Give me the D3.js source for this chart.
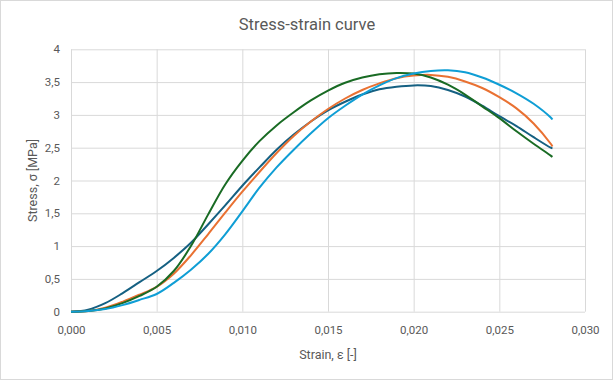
<!DOCTYPE html>
<html>
<head>
<meta charset="utf-8">
<script src="https://cdn.jsdelivr.net/npm/d3@7"></script>
<style>
  body { margin: 0; background: #fff; }
  svg text { font-family: Roboto, "Open Sans", sans-serif; fill: #595959; }
</style>
</head>
<body>
<div id="chart"></div>
<script>
// strain values shared by all series
var strain = [0, 0.001, 0.002, 0.003, 0.004, 0.005, 0.006, 0.007, 0.008, 0.009,
  0.010, 0.011, 0.012, 0.013, 0.014, 0.015, 0.016, 0.017, 0.018, 0.019,
  0.020, 0.021, 0.022, 0.023, 0.024, 0.025, 0.026, 0.027, 0.028, 0.0281];

var darkBlue = [0, 0.03, 0.13, 0.28, 0.45, 0.62, 0.82, 1.05, 1.33, 1.62,
  1.92, 2.2, 2.47, 2.7, 2.9, 3.07, 3.2, 3.31, 3.39, 3.43,
  3.45, 3.44, 3.38, 3.28, 3.14, 2.98, 2.83, 2.66, 2.5, 2.49];

var orange = [0, 0.01, 0.06, 0.15, 0.26, 0.38, 0.58, 0.86, 1.18, 1.51,
  1.83, 2.13, 2.42, 2.68, 2.9, 3.09, 3.25, 3.38, 3.48, 3.56,
  3.6, 3.61, 3.58, 3.51, 3.41, 3.27, 3.1, 2.87, 2.56, 2.52];

var green = [0, 0.01, 0.05, 0.13, 0.24, 0.38, 0.62, 1.0, 1.48, 1.94,
  2.3, 2.6, 2.84, 3.04, 3.22, 3.37, 3.49, 3.57, 3.62, 3.64,
  3.63, 3.57, 3.46, 3.31, 3.13, 2.95, 2.75, 2.56, 2.38, 2.36];

var lightBlue = [0, 0.01, 0.04, 0.1, 0.18, 0.27, 0.44, 0.64, 0.88, 1.18,
  1.53, 1.89, 2.2, 2.47, 2.72, 2.95, 3.14, 3.31, 3.45, 3.56,
  3.63, 3.67, 3.68, 3.65, 3.57, 3.46, 3.33, 3.17, 2.96, 2.93];

var xTicks = [0, 0.005, 0.010, 0.015, 0.020, 0.025, 0.030];
var yTicks = [0, 0.5, 1, 1.5, 2, 2.5, 3, 3.5, 4];

(function () {
  var series = [
    { values: darkBlue, color: '#156082' },
    { values: orange, color: '#E97132' },
    { values: green, color: '#196B24' },
    { values: lightBlue, color: '#0F9ED5' }
  ];

  var W = 615, H = 381;
  var plotLeft = 71, plotRight = 585, plotTop = 49.3, plotBottom = 311.7;

  var svg = d3.select('#chart').append('svg')
    .attr('width', W).attr('height', H);

  svg.append('rect')
    .attr('x', 0.5).attr('y', 0.5)
    .attr('width', W - 3).attr('height', H - 2)
    .attr('fill', '#fff').attr('stroke', '#d9d9d9');

  var x = d3.scaleLinear().domain([0, 0.03]).range([plotLeft, plotRight]);
  var y = d3.scaleLinear().domain([0, 4]).range([plotBottom, plotTop]);

  var comma = function (s) { return s.replace('.', ','); };

  // grid + tick labels
  var xAxis = d3.axisBottom(x).tickValues(xTicks)
    .tickSize(-(plotBottom - plotTop)).tickPadding(14)
    .tickFormat(function (d) { return comma(d3.format('.3f')(d)); });
  var gx = svg.append('g').attr('transform', 'translate(0,' + plotBottom + ')').call(xAxis);

  var yAxis = d3.axisLeft(y).tickValues(yTicks)
    .tickSize(-(plotRight - plotLeft)).tickPadding(11)
    .tickFormat(function (d) { return comma(String(d)); });
  var gy = svg.append('g').attr('transform', 'translate(' + plotLeft + ',0)').call(yAxis);

  [gx, gy].forEach(function (g) {
    g.select('.domain').remove();
    g.selectAll('.tick line').attr('stroke', '#d9d9d9').attr('stroke-width', 1);
    g.selectAll('.tick text').attr('font-size', 11.5).style('fill', '#595959')
      .style('font-family', 'Roboto, "Open Sans", sans-serif');
  });

  // curves
  var line = d3.line()
    .x(function (d, i) { return x(strain[i]); })
    .y(function (d) { return y(d); })
    .curve(d3.curveCatmullRom.alpha(0.5));

  svg.selectAll('path.series').data(series).enter()
    .append('path')
    .attr('class', 'series')
    .attr('d', function (s) { return line(s.values); })
    .attr('fill', 'none')
    .attr('stroke', function (s) { return s.color; })
    .attr('stroke-width', 2)
    .attr('stroke-linejoin', 'round');

  // titles
  svg.append('text')
    .attr('x', 307).attr('y', 30)
    .attr('text-anchor', 'middle')
    .attr('font-size', 16.5)
    .text('Stress-strain curve');

  svg.append('text')
    .attr('x', (plotLeft + plotRight) / 2).attr('y', 359)
    .attr('text-anchor', 'middle')
    .attr('font-size', 12.5)
    .text('Strain, ε [-]');

  svg.append('text')
    .attr('transform', 'translate(37,' + ((plotTop + plotBottom) / 2) + ') rotate(-90)')
    .attr('text-anchor', 'middle')
    .attr('font-size', 12.5)
    .text('Stress, σ [MPa]');
})();
</script>
</body>
</html>
